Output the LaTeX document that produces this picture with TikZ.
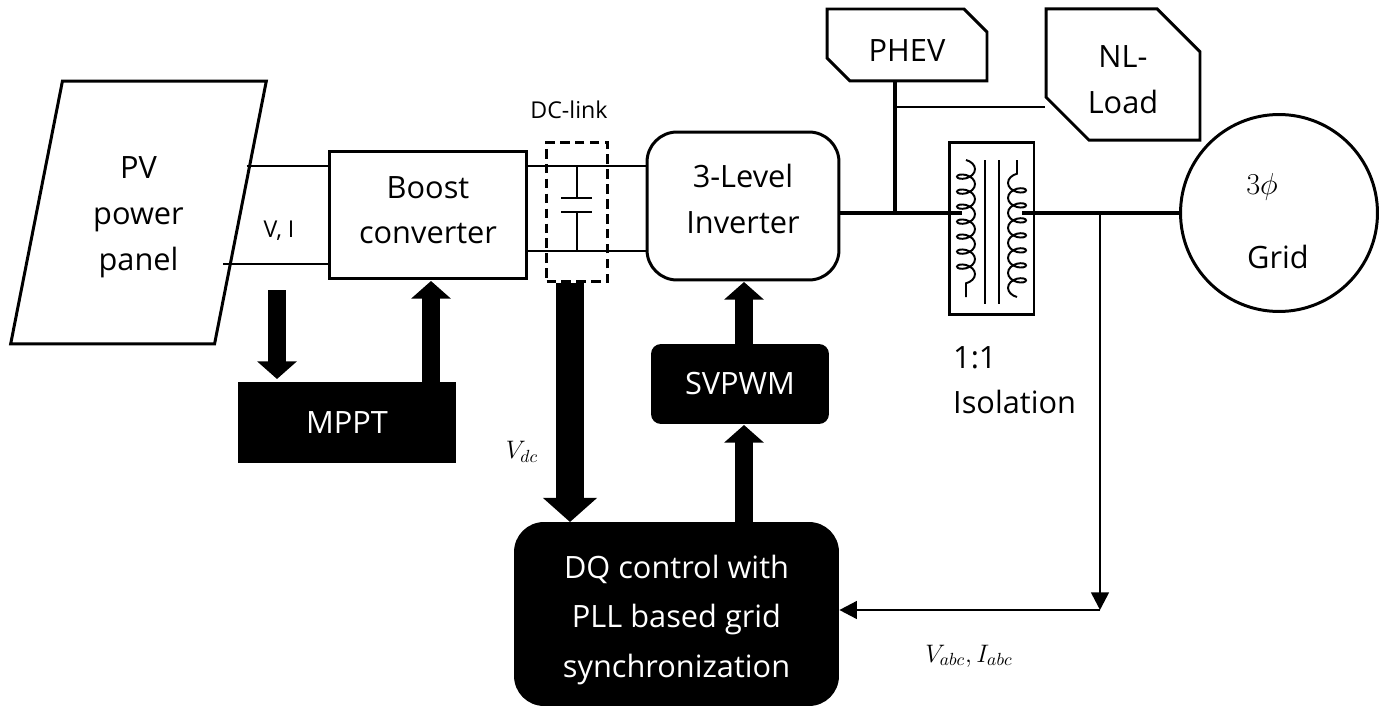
\documentclass[tikz,border=0pt]{standalone}
\usepackage{amsmath}
\usepackage{fontspec}
\setmainfont{Open Sans}
\usetikzlibrary{arrows.meta,shapes.geometric,shapes.misc,decorations.pathmorphing}
\tikzset{
  whitebox/.style={draw,line width=1.7pt,align=center,font=\fontsize{17.5}{26}\selectfont},
  blackbox/.style={fill=black,text=white,align=center,font=\fontsize{17.5}{28}\selectfont},
  snipbox/.style={whitebox,chamfered rectangle,chamfered rectangle corners={north east,south west}},
  bigarrow/.style={line width=10.5pt,-{Triangle[length=10pt,width=22pt]}},
  hugearrow/.style={line width=15.4pt,-{Triangle[length=13.7pt,width=30pt]}},
  wire/.style={line width=0.9pt},
  busline/.style={line width=1.9pt},
  sensearrow/.style={line width=1.5pt,-{Triangle[length=10pt,width=10pt]}},
  winding/.style={line width=1.1pt,decorate,decoration={coil,aspect=0.6,segment length=0.3cm,amplitude=0.18cm}}
}
\begin{document}
\begin{tikzpicture}[x=0.02cm,y=-0.02cm]
\useasboundingbox (0,0) rectangle (1386,706);
\node[whitebox,trapezium,trapezium left angle=76.7,trapezium right angle=103.3,trapezium stretches=true,minimum width=5.14cm,minimum height=5.26cm,inner sep=0pt] (pv) at (138.5,212.5) {\rule{0pt}{18pt}PV\\power\\panel};
\node[whitebox,minimum width=3.96cm,minimum height=2.56cm] (boost) at (428,215) {Boost\\converter\rule[-5.7pt]{0pt}{0pt}};
\node[whitebox,rounded corners=0.6cm,minimum width=3.84cm,minimum height=2.96cm] (inverter) at (743,206) {3-Level\\Inverter\rule[-8pt]{0pt}{0pt}};
\node[draw,dash pattern=on 5.5pt off 3pt,line width=1.7pt,minimum width=1.22cm,minimum height=2.8cm] (dclink) at (577,212) {};
\node[blackbox,minimum width=4.36cm,minimum height=1.62cm] (mppt) at (347,422.5) {MPPT};
\node[blackbox,rounded corners=0.2cm,minimum width=3.56cm,minimum height=1.6cm] (svpwm) at (740,384) {SVPWM};
\node[blackbox,rounded corners=0.6cm,minimum width=6.5cm,minimum height=3.68cm] (dq) at (676.5,614) {\rule{0pt}{20pt}DQ control with\\PLL based grid\\synchronization};
\node[whitebox,minimum width=1.7cm,minimum height=3.46cm] (trafo) at (991.5,228.5) {};
\node[whitebox,circle,minimum size=3.94cm] (grid) at (1279,213) {};
\node[snipbox,chamfered rectangle xsep=0.23cm,chamfered rectangle ysep=0.23cm,minimum width=3.2cm,minimum height=1.44cm] (phev) at (907,45) {\rule{0pt}{19pt}PHEV};
\node[snipbox,chamfered rectangle xsep=0.44cm,chamfered rectangle ysep=0.42cm,minimum width=3.08cm,minimum height=2.62cm] (nlload) at (1123,74.5) {\rule{0pt}{18pt}NL-\\Load};
\node[font=\fontsize{17}{24}\selectfont] (gridsym) at (1262,187) {$3\phi$};
\node[font=\fontsize{17.5}{26}\selectfont] (gridtxt) at (1278,257) {Grid};
\node[font=\fontsize{13.2}{16}\selectfont] (dctxt) at (569,110) {DC-link};
\node[font=\fontsize{13.2}{16}\selectfont] (vitxt) at (279,231) {V, I};
\node[font=\fontsize{17.5}{26}\selectfont,align=left,anchor=north west] (isotxt) at (947,340) {1:1\\Isolation};
\node[font=\fontsize{14.4}{16}\selectfont] (vdctxt) at (522,452) {$V_{dc}$};
\node[font=\fontsize{14.4}{16}\selectfont] (vabctxt) at (969,656) {$V_{abc},I_{abc}$};
\coordinate (pvtop) at (246.5,166);
\coordinate (pvbot) at (223,264);
\coordinate (tapa) at (895,213);
\coordinate (tapb) at (1100,213);
\coordinate (tapc) at (1100,610);
\draw[wire] (pvtop) -- (pvtop -| boost.west);
\draw[wire] (pvbot) -- (pvbot -| boost.west);
\draw[wire] (527,166) -- (647,166);
\draw[wire] (527,251) -- (647,251);
\draw[wire] (577,166) -- (577,198) (561,198) -- (592,198) (561,212) -- (592,212) (577,212) -- (577,251);
\draw[busline] (inverter.east |- tapa) -- (962,213);
\draw[busline] (phev.south -| tapa) -- (tapa);
\draw[wire] (895,107) -- (nlload.west |- 895,107);
\draw[busline] (1022,213) -- (grid.west);
\draw[sensearrow] (tapb) -- (tapc);
\draw[sensearrow] (tapc) -- (dq.east |- tapc);
\draw[winding] (966,160) -- (966,297);
\draw[winding] (1017,297) -- (1017,160);
\draw[wire] (985,160) -- (985,304) (999,160) -- (999,304);
\draw[bigarrow] (277,290) -- (277,379);
\draw[bigarrow] (mppt.north -| 431,0) -- (431,281);
\draw[hugearrow] (dclink.south -| 570,0) -- (570,522);
\draw[bigarrow] (svpwm.north -| 744,0) -- (744,282);
\draw[bigarrow] (dq.north -| 744,0) -- (744,425);
\end{tikzpicture}
\end{document}
